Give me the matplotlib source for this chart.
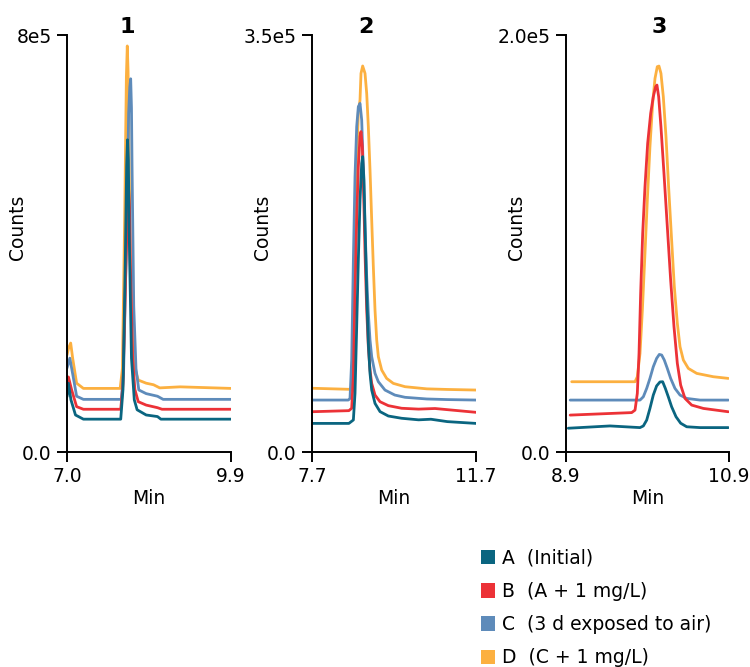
import matplotlib
matplotlib.use("Agg")
import matplotlib.pyplot as plt
from matplotlib.patches import Patch
from matplotlib.transforms import blended_transform_factory, offset_copy

plt.rcParams['font.family'] = ['DejaVu Sans']

# series names and colours
names = ["A  (Initial)", "B  (A + 1 mg/L)", "C  (3 d exposed to air)", "D  (C + 1 mg/L)"]
colors = ["#0a6580", "#ec3237", "#5e8bba", "#fcb040"]

# panel 1 (counts in units of 1e5)
p1_a_x = [7.00, 7.025, 7.07, 7.15, 7.29, 7.95, 7.99, 8.03, 8.055, 8.07, 8.085, 8.10, 8.14, 8.19, 8.24, 8.40, 8.60, 8.66, 9.9]
p1_a_y = [1.06, 1.32, 1.00, 0.71, 0.63, 0.63, 1.20, 3.60, 5.50, 5.99, 5.60, 4.20, 1.80, 1.00, 0.81, 0.71, 0.68, 0.63, 0.63]
p1_b_x = [7.00, 7.025, 7.08, 7.17, 7.29, 7.95, 7.99, 8.04, 8.075, 8.09, 8.105, 8.12, 8.16, 8.20, 8.26, 8.40, 8.60, 8.68, 9.9]
p1_b_y = [1.35, 1.44, 1.20, 0.87, 0.82, 0.82, 1.30, 3.50, 4.80, 5.03, 4.70, 3.60, 1.80, 1.20, 0.965, 0.90, 0.85, 0.82, 0.82]
p1_c_x = [7.00, 7.05, 7.10, 7.17, 7.29, 7.96, 8.00, 8.05, 8.09, 8.11, 8.126, 8.14, 8.15, 8.18, 8.22, 8.27, 8.40, 8.60, 8.70, 9.9]
p1_c_y = [1.61, 1.80, 1.50, 1.07, 1.01, 1.01, 1.50, 4.00, 6.50, 7.00, 7.16, 6.60, 5.50, 2.80, 1.60, 1.19, 1.12, 1.07, 1.01, 1.01]
p1_d_x = [7.00, 7.03, 7.065, 7.10, 7.17, 7.29, 7.94, 7.98, 8.02, 8.05, 8.066, 8.08, 8.09, 8.12, 8.16, 8.20, 8.26, 8.40, 8.53, 8.64, 9.0, 9.9]
p1_d_y = [1.86, 2.00, 2.09, 1.80, 1.32, 1.22, 1.22, 1.60, 4.50, 7.20, 7.79, 7.30, 6.50, 3.50, 2.00, 1.60, 1.38, 1.32, 1.29, 1.23, 1.25, 1.22]

# panel 2
p2_a_x = [7.7, 8.60, 8.709, 8.749, 8.79, 8.83, 8.871, 8.912, 8.936, 8.968, 8.993, 9.034, 9.074, 9.115,
          9.156, 9.237, 9.359, 9.562, 9.887, 10.3, 10.6, 11.0, 11.7]
p2_a_y = [0.24, 0.24, 0.269, 0.492, 1.052, 1.611, 2.115, 2.423, 2.479, 2.283, 1.891, 1.332, 0.912, 0.66,
          0.52, 0.408, 0.339, 0.302, 0.283, 0.27, 0.275, 0.255, 0.24]
p2_b_x = [7.7, 8.60, 8.668, 8.709, 8.749, 8.79, 8.83, 8.871, 8.895, 8.928, 8.96, 8.993, 9.034, 9.074,
          9.115, 9.156, 9.237, 9.359, 9.562, 9.887, 10.3, 10.7, 11.7]
p2_b_y = [0.338, 0.347, 0.367, 0.632, 1.332, 1.947, 2.395, 2.647, 2.689, 2.563, 2.171, 1.667, 1.192, 0.884,
          0.688, 0.576, 0.478, 0.422, 0.389, 0.367, 0.36, 0.365, 0.333]
p2_c_x = [7.7, 8.586, 8.627, 8.668, 8.709, 8.749, 8.79, 8.83, 8.871, 8.912, 8.952, 8.993, 9.034, 9.074,
          9.115, 9.156, 9.237, 9.318, 9.48, 9.72, 9.97, 10.5, 11.0, 11.7]
p2_c_y = [0.436, 0.436, 0.45, 0.772, 1.611, 2.311, 2.73, 2.898, 2.926, 2.787, 2.367, 1.891, 1.471, 1.164,
          0.94, 0.80, 0.66, 0.59, 0.52, 0.478, 0.459, 0.445, 0.44, 0.436]
p2_d_x = [7.7, 8.627, 8.668, 8.732, 8.789, 8.83, 8.871, 8.895, 8.936, 8.993, 9.034, 9.074, 9.115, 9.156,
          9.196, 9.237, 9.278, 9.318, 9.40, 9.52, 9.683, 9.97, 10.5, 11.0, 11.7]
p2_d_y = [0.535, 0.526, 0.52, 1.50, 2.40, 2.85, 2.954, 3.178, 3.24, 3.178, 3.01, 2.73, 2.367, 1.947,
          1.555, 1.19, 0.94, 0.80, 0.688, 0.618, 0.576, 0.548, 0.53, 0.525, 0.52]

# panel 3
p3_a_x = [8.928, 9.44, 9.808, 9.849, 9.89, 9.93, 9.971, 10.012, 10.053, 10.086, 10.119, 10.155, 10.196,
          10.25, 10.307, 10.381, 10.545, 10.892]
p3_a_y = [0.114, 0.125, 0.117, 0.125, 0.153, 0.209, 0.273, 0.317, 0.336, 0.337, 0.305, 0.265, 0.217,
          0.169, 0.138, 0.121, 0.117, 0.117]
p3_b_x = [8.951, 9.706, 9.747, 9.775, 9.796, 9.816, 9.841, 9.869, 9.902, 9.939, 9.971, 10.0, 10.016,
          10.037, 10.065, 10.102, 10.143, 10.184, 10.225, 10.266, 10.307, 10.36, 10.442, 10.585, 10.892]
p3_b_y = [0.177, 0.189, 0.201, 0.281, 0.473, 0.761, 1.049, 1.272, 1.48, 1.624, 1.704, 1.752, 1.76,
          1.704, 1.56, 1.337, 1.081, 0.825, 0.601, 0.425, 0.321, 0.257, 0.225, 0.209, 0.193]
p3_c_x = [8.951, 9.808, 9.849, 9.89, 9.93, 9.971, 10.012, 10.045, 10.074, 10.106, 10.143, 10.184,
          10.237, 10.299, 10.381, 10.545, 10.892]
p3_c_y = [0.249, 0.249, 0.265, 0.305, 0.353, 0.409, 0.449, 0.468, 0.465, 0.441, 0.401, 0.353,
          0.305, 0.273, 0.257, 0.249, 0.249]
p3_d_x = [8.97, 9.747, 9.775, 9.808, 9.837, 9.869, 9.898, 9.93, 9.963, 9.992, 10.02, 10.041, 10.065,
          10.094, 10.127, 10.159, 10.196, 10.229, 10.266, 10.299, 10.34, 10.401, 10.504, 10.708, 10.892]
p3_d_y = [0.337, 0.337, 0.361, 0.473, 0.681, 0.953, 1.209, 1.464, 1.672, 1.792, 1.848, 1.851, 1.816,
          1.704, 1.512, 1.272, 1.017, 0.793, 0.617, 0.505, 0.441, 0.401, 0.377, 0.361, 0.353]

panels = [
    [(p1_a_x, p1_a_y), (p1_b_x, p1_b_y), (p1_c_x, p1_c_y), (p1_d_x, p1_d_y)],
    [(p2_a_x, p2_a_y), (p2_b_x, p2_b_y), (p2_c_x, p2_c_y), (p2_d_x, p2_d_y)],
    [(p3_a_x, p3_a_y), (p3_b_x, p3_b_y), (p3_c_x, p3_c_y), (p3_d_x, p3_d_y)],
]
titles = ["1", "2", "3"]
title_x = [8.06, 9.02, 10.05]
x_ranges = [(7.0, 9.9), (7.7, 11.7), (8.9, 10.9)]
x_labels = [["7.0", "9.9"], ["7.7", "11.7"], ["8.9", "10.9"]]
y_max = [8.0, 3.5, 2.0]
y_labels = [["0.0", "8e5"], ["0.0", "3.5e5"], ["0.0", "2.0e5"]]

fig = plt.figure(figsize=(7.5, 6.67), dpi=100)
lefts = [67, 312, 566]
widths = [164, 164, 163]

for i in range(3):
    ax = fig.add_axes([lefts[i] / 750, 215 / 667, widths[i] / 750, 417 / 667])
    # D drawn first, A last (on top)
    for (xs, ys), c in list(zip(panels[i], colors))[::-1]:
        ax.plot(xs, ys, color=c, lw=2.0, solid_joinstyle='round', solid_capstyle='round')
    x0, x1 = x_ranges[i]
    ax.set_xlim(x0, x1)
    ax.set_ylim(0, y_max[i])
    ax.set_xticks([x0, x1])
    ax.set_xticklabels(x_labels[i])
    ax.set_yticks([0, y_max[i]])
    ax.set_yticklabels(y_labels[i])
    for s in ['top', 'right']:
        ax.spines[s].set_visible(False)
    for s in ['left', 'bottom']:
        ax.spines[s].set_linewidth(1.4)
    ax.tick_params(axis='both', direction='out', length=7, width=1.4, labelsize=13.5, pad=4)
    ax.set_xlabel("Min", fontsize=13.5, labelpad=2)
    ax.set_ylabel("Counts", fontsize=13.5)
    ax.yaxis.set_label_coords(-40 / widths[i], 0.54)
    tr = blended_transform_factory(ax.transData, ax.transAxes)
    tr = offset_copy(tr, fig=fig, y=-2, units='dots')
    ax.text(title_x[i], 1.0, titles[i], transform=tr, ha='center', va='bottom',
            fontsize=16, fontweight='bold')

handles = [Patch(facecolor=c, edgecolor='none') for c in colors]
fig.legend(handles, names, loc='upper left', bbox_to_anchor=(0.641, 0.177),
           frameon=False, fontsize=13.5, handlelength=0.78, handleheight=0.78,
           handletextpad=0.37, labelspacing=0.75, borderpad=0, borderaxespad=0)

fig.savefig("out.png", dpi=100)
